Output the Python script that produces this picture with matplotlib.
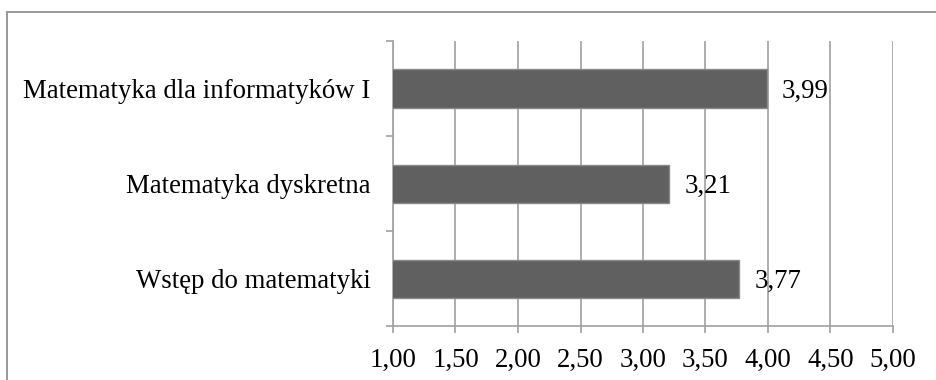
import matplotlib
matplotlib.use("Agg")
import matplotlib.pyplot as plt
from matplotlib.lines import Line2D
from matplotlib.ticker import FixedLocator, FuncFormatter

# Mean grades per course (bottom to top)
courses = ["Wstęp do matematyki", "Matematyka dyskretna", "Matematyka dla informatyków I"]
means = [3.77, 3.21, 3.99]
x_ticks = [1.0, 1.5, 2.0, 2.5, 3.0, 3.5, 4.0, 4.5, 5.0]

W, H = 937, 380
FS = 19.3
plt.rcParams["font.family"] = ["Liberation Serif", "DejaVu Serif"]
fig = plt.figure(figsize=(W / 100, H / 100), dpi=100)
fig.patch.set_facecolor("white")

# Frame around the chart area (left and top edges visible)
fx0, fy0 = 7 / W, 1 - 12 / H
fig.add_artist(Line2D([fx0, fx0], [0, fy0], transform=fig.transFigure,
                      color="#9a9a9a", lw=1.4))
fig.add_artist(Line2D([fx0, 1], [fy0, fy0], transform=fig.transFigure,
                      color="#9a9a9a", lw=1.4))

ax = fig.add_axes([393 / W, 1 - 326 / H, (893 - 393) / W, (326 - 41) / H])

grey = "#a0a0a0"
ypos = list(range(len(courses)))
ax.barh(ypos, means, height=0.4, color="#606060", edgecolor="#8a8a8a",
        linewidth=1.0, zorder=3)

ax.set_xlim(1, 5)
ax.set_ylim(-0.5, len(courses) - 0.5)

ax.set_xticks(x_ticks)
ax.xaxis.set_major_formatter(FuncFormatter(lambda v, _: f"{v:.2f}".replace(".", ",")))
ax.grid(axis="x", color=grey, lw=1.2, zorder=0)
ax.set_axisbelow(True)

ax.set_yticks(ypos)
ax.set_yticklabels(courses)
ax.yaxis.set_minor_locator(FixedLocator([y - 0.5 for y in range(len(courses) + 1)]))
ax.tick_params(axis="y", which="major", length=0, pad=16, labelsize=FS)
ax.tick_params(axis="y", which="minor", length=5, width=1.2, color=grey, direction="out")
ax.tick_params(axis="x", which="major", length=5, width=1.2, color=grey,
               direction="out", pad=11, labelsize=FS)

for side in ("top", "right"):
    ax.spines[side].set_visible(False)
for side in ("left", "bottom"):
    ax.spines[side].set_color(grey)
    ax.spines[side].set_linewidth(1.2)

for y, v in zip(ypos, means):
    ax.annotate(f"{v:.2f}".replace(".", ","), xy=(v, y), xytext=(11, -2),
                textcoords="offset points", va="center", ha="left", fontsize=FS)

fig.savefig("out.png", dpi=100)
